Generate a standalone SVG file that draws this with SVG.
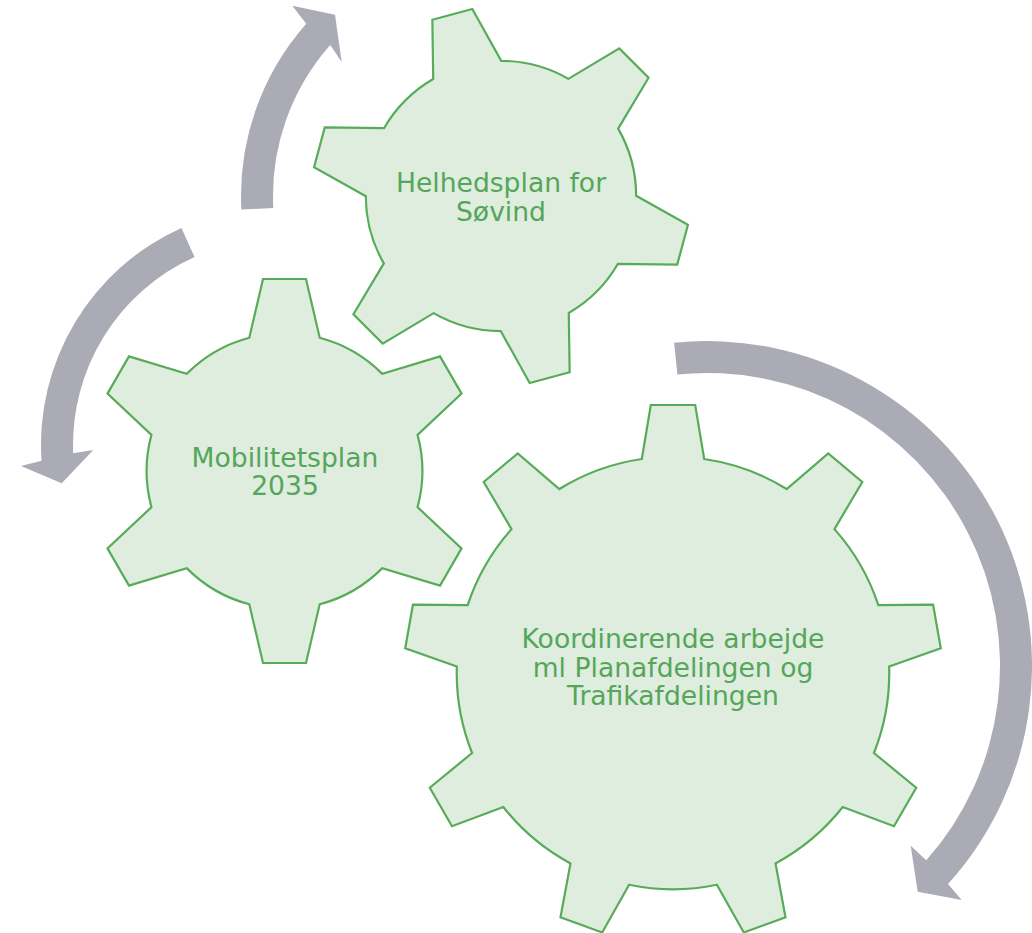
<svg xmlns="http://www.w3.org/2000/svg" width="1032" height="933" viewBox="0 0 1032 933">
<style>
.gear{fill:#DEEDDE;stroke:#58AB58;stroke-width:2.2;stroke-linejoin:miter}
.arrow{fill:#ABABB6;stroke:none}
.lbl{font-family:"DejaVu Sans","Verdana","Liberation Sans",sans-serif;font-size:26.6px;fill:#55A65A;text-anchor:middle}
</style>
<rect width="1032" height="933" fill="#FFFFFF"/>
<g id="connectors">
<path class="arrow" d="M241.36,209.61 A260,260 0 0 1 306.27,23.72 L292.3,5.7 L335,14.7 L341.7,62 L330.24,44.92 A228,228 0 0 0 273.31,207.93 Z"/>
<path class="arrow" d="M181.44,227.92 A238,238 0 0 0 41.52,460.77 L21,466 L61.7,483.3 L93.3,450 L73.17,453.27 A206,206 0 0 1 194.56,257.10 Z"/>
<path class="arrow" d="M674.16,342.66 A325,325 0 0 1 948.0,884.05 L961.7,900 L917.7,891.7 L910.7,845.7 L926.26,860.36 A293,293 0 0 0 677.39,374.50 Z"/>
</g>
<g id="node-helhedsplan">
<path class="gear" d="M433.22,79.06 L432.35,19.77 L472.33,9.05 L501.22,60.84 A135.2,135.2 0 0 1 568.39,78.83 L619.30,48.42 L648.58,77.70 L618.17,128.61 A135.2,135.2 0 0 1 636.16,195.78 L687.95,224.67 L677.23,264.65 L617.94,263.78 A135.2,135.2 0 0 1 568.78,312.94 L569.65,372.23 L529.67,382.95 L500.78,331.16 A135.2,135.2 0 0 1 433.61,313.17 L382.70,343.58 L353.42,314.30 L383.83,263.39 A135.2,135.2 0 0 1 365.84,196.22 L314.05,167.33 L324.77,127.35 L384.06,128.22 A135.2,135.2 0 0 1 433.22,79.06 Z"/>
<text class="lbl" x="501" y="192">Helhedsplan for</text>
<text class="lbl" x="501" y="220.5">Søvind</text>
</g>
<g id="node-mobilitetsplan">
<path class="gear" d="M249.3,337.7 L263,279 L306,279 L319.7,337.7 A137.87,137.87 0 0 1 382.34,373.87 L440.03,356.38 L461.53,393.62 L417.54,434.83 A137.87,137.87 0 0 1 417.54,507.17 L461.53,548.38 L440.03,585.62 L382.34,568.13 A137.87,137.87 0 0 1 319.7,604.3 L306,663 L263,663 L249.3,604.3 A137.87,137.87 0 0 1 186.66,568.13 L128.97,585.62 L107.47,548.38 L151.46,507.17 A137.87,137.87 0 0 1 151.46,434.83 L107.47,393.62 L128.97,356.38 L186.66,373.87 A137.87,137.87 0 0 1 249.3,337.7 Z"/>
<text class="lbl" x="285" y="466.5">Mobilitetsplan</text>
<text class="lbl" x="285" y="495">2035</text>
</g>
<g id="node-koordinerende">
<path class="gear" d="M641.8,459 L650.8,405 L695.2,405 L704.2,459 A216.3,216.3 0 0 1 786.66,489.02 L828.26,453.43 L862.28,481.97 L834.46,529.12 A216.3,216.3 0 0 1 878.33,605.11 L933.07,604.60 L940.79,648.32 L889.17,666.57 A216.3,216.3 0 0 1 873.93,752.98 L916.20,787.77 L894.00,826.23 L842.73,807.02 A216.3,216.3 0 0 1 775.51,863.42 L785.52,917.25 L743.80,932.43 L716.87,884.76 A216.3,216.3 0 0 1 629.13,884.76 L602.20,932.43 L560.48,917.25 L570.49,863.42 A216.3,216.3 0 0 1 503.27,807.02 L452.00,826.23 L429.80,787.77 L472.07,752.98 A216.3,216.3 0 0 1 456.83,666.57 L405.21,648.32 L412.93,604.60 L467.67,605.11 A216.3,216.3 0 0 1 511.54,529.12 L483.72,481.97 L517.74,453.43 L559.34,489.02 A216.3,216.3 0 0 1 641.8,459 Z"/>
<text class="lbl" x="673" y="648.3">Koordinerende arbejde</text>
<text class="lbl" x="673" y="676.7">ml Planafdelingen og</text>
<text class="lbl" x="673" y="705">Trafikafdelingen</text>
</g>
</svg>
